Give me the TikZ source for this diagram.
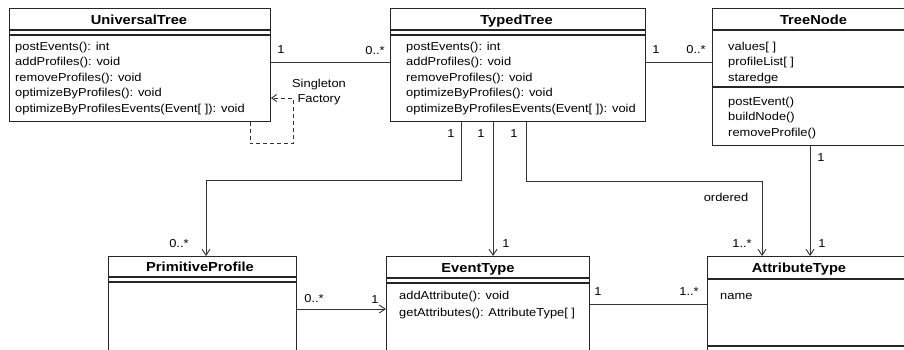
\documentclass[tikz,border=0pt]{standalone}
\usepackage{fontspec}
\setmainfont{Liberation Sans}[FakeStretch=1.12]
\usetikzlibrary{arrows.meta,calc}
\tikzset{
  headbox/.style={draw=black!85,line width=0.9pt,anchor=north west,inner sep=0pt},
  partbox/.style={draw=black!85,line width=0.9pt,anchor=north west,inner sep=0pt},
  headtext/.style={anchor=base,inner sep=0pt,font=\fontsize{13.1}{15}\selectfont\bfseries},
  membertext/.style={anchor=base west,inner sep=0pt,font=\fontsize{11.5}{15.5}\selectfont},
  multtext/.style={inner sep=0pt,font=\fontsize{11.5}{15.5}\selectfont},
  assoc/.style={draw=black!80,line width=0.9pt},
  navarrow/.style={assoc,-{Straight Barb[length=6pt,width=8pt]}},
  deparrow/.style={assoc,dash pattern=on 4pt off 3pt,-{Straight Barb[length=5pt,width=7pt]}}
}

\begin{document}
\begin{tikzpicture}[x=1pt,y=-1pt]
  \path[use as bounding box] (0,0) rectangle (904,349);
  \clip (0,0) rectangle (904,349);

  % classes, top row
  \node[headbox,minimum width=261pt,minimum height=21pt] (ut) at (9,8) {};
  \node[partbox,minimum width=261pt,minimum height=4pt] (ut-a) at (ut.south west) {};
  \node[partbox,minimum width=261pt,minimum height=86pt] (ut-o) at (ut-a.south west) {};
  \node[headtext] (ut-t) at (139,24) {UniversalTree};
  \foreach \txt [count=\i] in {postEvents(): int,addProfiles(): void,removeProfiles(): void,optimizeByProfiles(): void,optimizeByProfilesEvents(Event[ ]): void}
    \node[membertext] (ut-m\i) at (15,{50+15.5*(\i-1)}) {\txt};

  \node[headbox,minimum width=255pt,minimum height=21pt] (tt) at (390,8) {};
  \node[partbox,minimum width=255pt,minimum height=4pt] (tt-a) at (tt.south west) {};
  \node[partbox,minimum width=255pt,minimum height=86pt] (tt-o) at (tt-a.south west) {};
  \node[headtext] (tt-t) at (516.5,24) {TypedTree};
  \foreach \txt [count=\i] in {postEvents(): int,addProfiles(): void,removeProfiles(): void,optimizeByProfiles(): void,optimizeByProfilesEvents(Event[ ]): void}
    \node[membertext] (tt-m\i) at (406,{50+15.5*(\i-1)}) {\txt};

  \node[headbox,minimum width=210pt,minimum height=21pt] (tn) at (712,8) {};
  \node[partbox,minimum width=210pt,minimum height=56pt] (tn-a) at (tn.south west) {};
  \node[partbox,minimum width=210pt,minimum height=58pt] (tn-o) at (tn-a.south west) {};
  \node[headtext] (tn-t) at (813.5,24) {TreeNode};
  \foreach \txt [count=\i] in {values[ ],profileList[ ],staredge}
    \node[membertext] (tn-f\i) at (728,{50+15.5*(\i-1)}) {\txt};
  \foreach \txt [count=\i] in {postEvent(),buildNode(),removeProfile()}
    \node[membertext] (tn-m\i) at (728,{105+15.5*(\i-1)}) {\txt};

  % classes, bottom row
  \node[headbox,minimum width=188pt,minimum height=20pt] (pp) at (108,256) {};
  \node[partbox,minimum width=188pt,minimum height=4pt] (pp-a) at (pp.south west) {};
  \node[partbox,minimum width=188pt,minimum height=80pt] (pp-o) at (pp-a.south west) {};
  \node[headtext] (pp-t) at (200,271) {PrimitiveProfile};

  \node[headbox,minimum width=203pt,minimum height=21pt] (et) at (386,256) {};
  \node[partbox,minimum width=203pt,minimum height=4pt] (et-a) at (et.south west) {};
  \node[partbox,minimum width=203pt,minimum height=80pt] (et-o) at (et-a.south west) {};
  \node[headtext] (et-t) at (478,272) {EventType};
  \foreach \txt [count=\i] in {addAttribute(): void,getAttributes(): AttributeType[ ]}
    \node[membertext] (et-m\i) at (399,{299+17.5*(\i-1)}) {\txt};

  \node[headbox,minimum width=210pt,minimum height=22pt] (at) at (707,256) {};
  \node[partbox,minimum width=210pt,minimum height=66pt] (at-a) at (at.south west) {};
  \node[partbox,minimum width=210pt,minimum height=30pt] (at-o) at (at-a.south west) {};
  \node[headtext] (at-t) at (799,272) {AttributeType};
  \node[membertext] (at-f1) at (720,299) {name};

  % connectors
  \coordinate (r1) at (0,62);
  \coordinate (r2) at (0,309);
  \coordinate (r3) at (0,304);
  \coordinate (sf) at (293,98);
  \coordinate (v1) at (461,180);
  \coordinate (k1) at (206,180);
  \coordinate (v2) at (493,0);
  \coordinate (v3) at (526,181);
  \coordinate (k3) at (762,181);
  \coordinate (v4) at (810,0);

  \draw[assoc] (r1 -| ut-o.east) -- (r1 -| tt-o.west);
  \draw[assoc] (r1 -| tt-o.east) -- (r1 -| tn-a.west);
  \draw[deparrow] ($(ut-o.south west)+(241,0)$) |- ++(43,22) -- (sf) -- (sf -| ut-o.east);
  \draw[navarrow] (v1 |- tt-o.south) -- (v1) -- (k1) -- (k1 |- pp.north);
  \draw[navarrow] (v2 |- tt-o.south) -- (v2 |- et.north);
  \draw[navarrow] (v3 |- tt-o.south) -- (v3) -- (k3) -- (k3 |- at.north);
  \draw[navarrow] (v4 |- tn-o.south) -- (v4 |- at.north);
  \draw[navarrow] (r2 -| pp-o.east) -- (r2 -| et-o.west);
  \draw[assoc] (r3 -| et-o.east) -- (r3 -| at-a.west);

  % labels
  \node[multtext,align=center] (sf-l) at (319,92) {Singleton\\Factory};
  \node[multtext] (m1) at (281,50) {1};
  \node[multtext] (m2) at (375,51) {0..*};
  \node[multtext] (m3) at (656,50) {1};
  \node[multtext] (m4) at (696,50) {0..*};
  \node[multtext] (m5) at (451,134) {1};
  \node[multtext] (m6) at (481,134) {1};
  \node[multtext] (m7) at (514,134) {1};
  \node[multtext] (m8) at (821,158) {1};
  \node[multtext] (m9) at (726,197) {ordered};
  \node[multtext] (m10) at (179,244) {0..*};
  \node[multtext] (m11) at (506,244) {1};
  \node[multtext] (m12) at (742,244) {1..*};
  \node[multtext] (m13) at (822,244) {1};
  \node[multtext] (m14) at (314,299) {0..*};
  \node[multtext] (m15) at (375,300) {1};
  \node[multtext] (m16) at (598,292) {1};
  \node[multtext] (m17) at (689,292) {1..*};
\end{tikzpicture}
\end{document}
